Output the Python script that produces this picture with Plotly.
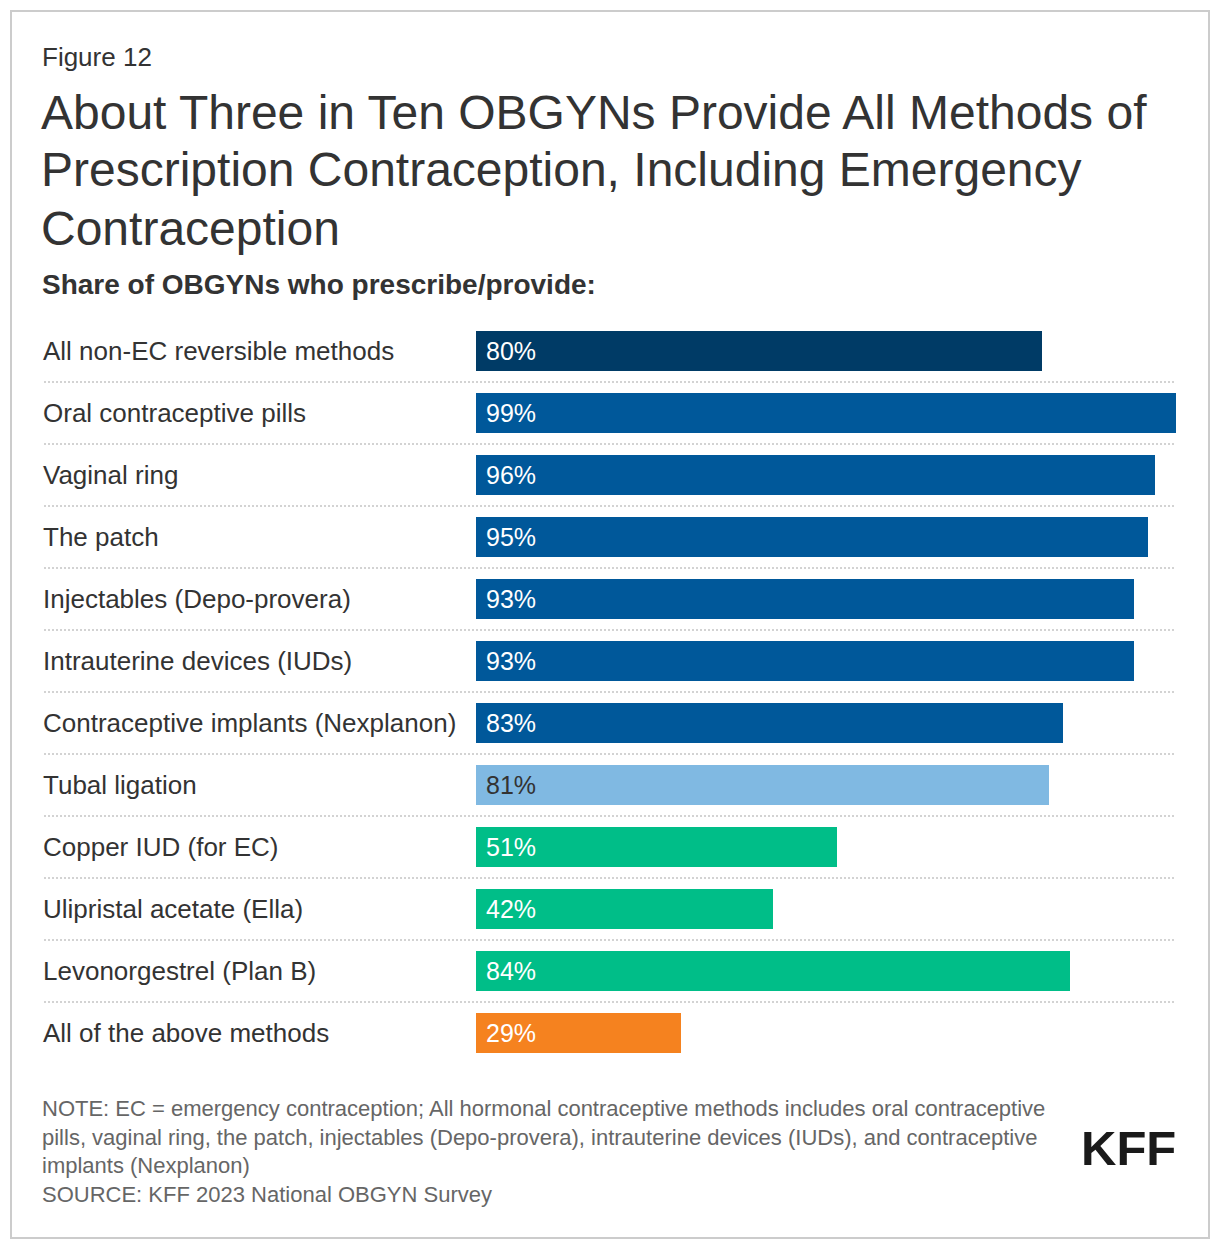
import plotly.graph_objects as go

categories = [
    "All non-EC reversible methods",
    "Oral contraceptive pills",
    "Vaginal ring",
    "The patch",
    "Injectables (Depo-provera)",
    "Intrauterine devices (IUDs)",
    "Contraceptive implants (Nexplanon)",
    "Tubal ligation",
    "Copper IUD (for EC)",
    "Ulipristal acetate (Ella)",
    "Levonorgestrel (Plan B)",
    "All of the above methods",
]
values = [80, 99, 96, 95, 93, 93, 83, 81, 51, 42, 84, 29]

title_lines = [
    "About Three in Ten OBGYNs Provide All Methods of",
    "Prescription Contraception, Including Emergency",
    "Contraception",
]
note_text = ("NOTE: EC = emergency contraception; All hormonal contraceptive methods includes oral contraceptive<br>"
             "pills, vaginal ring, the patch, injectables (Depo-provera), intrauterine devices (IUDs), and contraceptive<br>"
             "implants (Nexplanon)<br>SOURCE: KFF 2023 National OBGYN Survey")

bar_colors = ["#003B66"] + ["#00589A"] * 6 + ["#80B9E2"] + ["#00BE88"] * 3 + ["#F5821F"]
text_colors = ["#FFFFFF"] * 7 + ["#333333"] + ["#FFFFFF"] * 4

W, H = 1220, 1250
OFF = 8  # page body margin offset
# target pixel positions (in screenshot coordinates)
PL, PR, PT, PB = 476, 1176, 320, 1064


def sx(x):
    return x - OFF


L, T = sx(PL), sx(PT)
R, B = W - sx(PR), H - sx(PB)
PW, PH = W - L - R, H - T - B


def px_x(x):
    return (sx(x) - L) / PW


def px_y(y):
    return (H - B - sx(y)) / PH


FONT = "Liberation Sans, Arial, sans-serif"
idx = list(range(len(categories)))

fig = go.Figure()
fig.add_trace(go.Bar(
    x=values, y=idx, orientation="h",
    marker=dict(color=bar_colors, line=dict(width=0)),
    width=0.645, hoverinfo="skip",
))

annotations = []
for i, (c, v, tc) in enumerate(zip(categories, values, text_colors)):
    annotations.append(dict(x=px_x(41), xref="paper", y=i, yref="y", text=c,
                            showarrow=False, xanchor="left", yanchor="middle",
                            font=dict(family=FONT, size=26, color="#333333")))
    annotations.append(dict(x=0, xref="x", y=i, yref="y", text=f"{v}%",
                            showarrow=False, xanchor="left", yanchor="middle", xshift=8,
                            font=dict(family=FONT, size=25, color=tc)))

for line, yc in zip(title_lines, [112, 170, 228]):
    annotations.append(dict(x=px_x(39), y=px_y(yc), xref="paper", yref="paper", text=line,
                            showarrow=False, xanchor="left", yanchor="middle",
                            font=dict(family=FONT, size=48, color="#333333")))

annotations += [
    dict(x=px_x(40), y=px_y(57), xref="paper", yref="paper", text="Figure 12",
         showarrow=False, xanchor="left", yanchor="middle",
         font=dict(family=FONT, size=26, color="#333333")),
    dict(x=px_x(40), y=px_y(285), xref="paper", yref="paper",
         text="<b>Share of OBGYNs who prescribe/provide:</b>",
         showarrow=False, xanchor="left", yanchor="middle",
         font=dict(family=FONT, size=28, color="#333333")),
    dict(x=px_x(40), y=px_y(1094), xref="paper", yref="paper",
         text=note_text,
         showarrow=False, xanchor="left", yanchor="top", align="left",
         font=dict(family=FONT, size=22, color="#666666")),
    dict(x=px_x(1178), y=px_y(1148), xref="paper", yref="paper", text="<b>KFF</b>",
         showarrow=False, xanchor="right", yanchor="middle",
         font=dict(family=FONT, size=49, color="#1A1A1A")),
]

shapes = []
for i in range(len(categories) - 1):
    shapes.append(dict(type="line", xref="paper", yref="y",
                       x0=px_x(44), x1=1, y0=i + 0.5, y1=i + 0.5,
                       line=dict(color="#D3D3D3", width=2, dash="2px,2px")))
shapes.append(dict(type="rect", xref="paper", yref="paper",
                   x0=px_x(11), x1=px_x(1209), y0=px_y(11), y1=px_y(1238),
                   line=dict(color="#CCCCCC", width=2), fillcolor="rgba(0,0,0,0)"))

fig.update_layout(
    width=W, height=H,
    margin=dict(l=L, r=R, t=T, b=B, pad=0),
    paper_bgcolor="white", plot_bgcolor="white",
    showlegend=False,
    xaxis=dict(range=[0, 99], visible=False, fixedrange=True),
    yaxis=dict(range=[len(categories) - 0.5, -0.5], visible=False, fixedrange=True),
    annotations=annotations, shapes=shapes,
    bargap=0,
)

fig.write_html("out.html", config={"displayModeBar": False})
